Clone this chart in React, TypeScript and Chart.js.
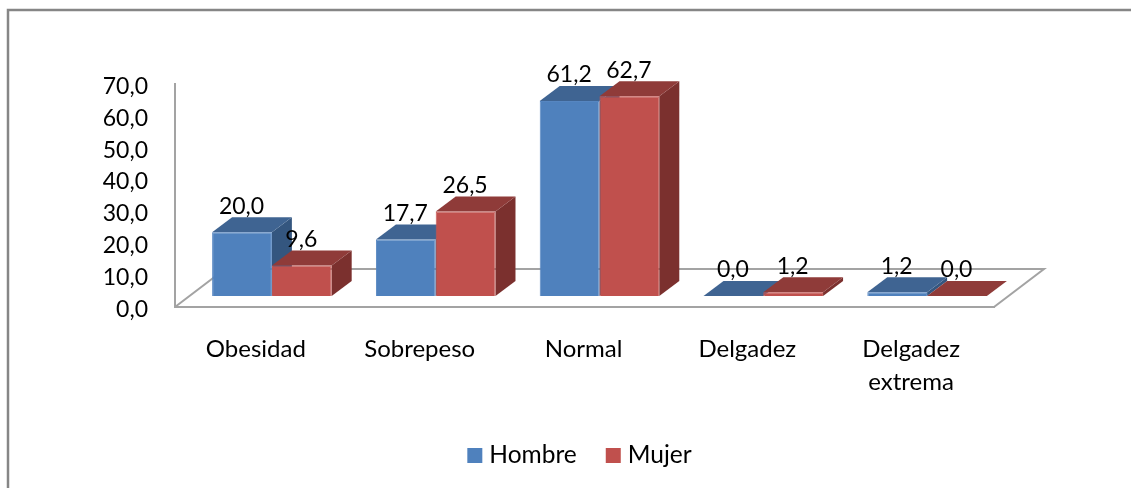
import React, { useEffect, useRef } from "react";
import { Chart, registerables } from "chart.js";

Chart.register(...registerables);

const categories: (string | string[])[] = ["Obesidad", "Sobrepeso", "Normal", "Delgadez", ["Delgadez", "extrema"]];
const seriesNames = ["Hombre", "Mujer"];
const hombre = [20.0, 17.7, 61.2, 0.0, 1.2];
const mujer = [9.6, 26.5, 62.7, 1.2, 0.0];
const yTicks = [0, 10, 20, 30, 40, 50, 60, 70];

const FONT = "Lato, 'Noto Sans', sans-serif";
const TEXT_SIZE = 24;
const LEGEND_SIZE = 24.5;
const NUM_SIZE = 23;
const AXIS_GRAY = "#A3A3A3";
const FRAME_GRAY = "#868686";
const BLUE = { front: "#4F81BD", edge: "#5686C1", top: "#3F6492", side: "#34567F" };
const RED = { front: "#C0504D", edge: "#C65652", top: "#8F3B39", side: "#7B302E" };
const FACES = [BLUE, RED];

// 3D projection offsets in pixels
const FLOOR_DX = 50;
const FLOOR_DY = 38;
const PLANE_DX = 15;
const PLANE_DY = -11;
const BAR_DX = 20;
const BAR_DY = 15;

const fmt = (v: number) => v.toFixed(1).replace(".", ",");

const poly = (ctx: CanvasRenderingContext2D, pts: number[][], fill: string) => {
  ctx.beginPath();
  pts.forEach(([x, y], i) => (i ? ctx.lineTo(x, y) : ctx.moveTo(x, y)));
  ctx.closePath();
  ctx.fillStyle = fill;
  ctx.fill();
};

const threeD = {
  id: "threeD",
  beforeDraw(chart: any) {
    const { ctx, width, height } = chart;
    ctx.save();
    ctx.fillStyle = "#fff";
    ctx.fillRect(0, 0, width, height);
    ctx.strokeStyle = FRAME_GRAY;
    ctx.lineWidth = 2.5;
    ctx.beginPath();
    ctx.moveTo(8, height + 2);
    ctx.lineTo(8, 10);
    ctx.lineTo(width + 2, 10);
    ctx.stroke();
    ctx.restore();
  },
  beforeDatasetsDraw(chart: any) {
    const { ctx, scales } = chart;
    const y0 = scales.y.getPixelForValue(0);
    const l = scales.x.left;
    const r = scales.x.right;
    ctx.save();
    ctx.strokeStyle = AXIS_GRAY;
    ctx.lineWidth = 2;
    ctx.beginPath();
    ctx.moveTo(l, y0);
    ctx.lineTo(l + FLOOR_DX, y0 - FLOOR_DY);
    ctx.lineTo(r + FLOOR_DX, y0 - FLOOR_DY);
    ctx.lineTo(r, y0);
    ctx.stroke();
    ctx.restore();

    // Hombre first, Mujer after it, so that the right-hand bar sits in front.
    chart.data.datasets.forEach((_: any, i: number) => {
      const meta = chart.getDatasetMeta(i);
      const face = FACES[i];
      ctx.save();
      ctx.translate(PLANE_DX, PLANE_DY);
      meta.data.forEach((bar: any) => {
        const xl = bar.x - bar.width / 2;
        const xr = bar.x + bar.width / 2;
        poly(ctx, [[xr, bar.y], [xr + BAR_DX, bar.y - BAR_DY], [xr + BAR_DX, bar.base - BAR_DY], [xr, bar.base]], face.side);
        poly(ctx, [[xl, bar.y], [xl + BAR_DX, bar.y - BAR_DY], [xr + BAR_DX, bar.y - BAR_DY], [xr, bar.y]], face.top);
      });
      meta.controller.draw();
      ctx.restore();
    });
    return false;
  },
  afterDraw(chart: any) {
    const { ctx } = chart;
    ctx.save();
    ctx.font = `${NUM_SIZE}px ${FONT}`;
    ctx.fillStyle = "#000";
    ctx.textAlign = "center";
    ctx.textBaseline = "middle";
    chart.data.datasets.forEach((ds: any, i: number) => {
      chart.getDatasetMeta(i).data.forEach((bar: any, j: number) => {
        ctx.fillText(fmt(ds.data[j]), bar.x + PLANE_DX - 0.5, bar.y + PLANE_DY - 26);
      });
    });

    // Legend
    ctx.font = `${LEGEND_SIZE}px ${FONT}`;
    ctx.textAlign = "left";
    const box = 15;
    const boxGap = 7;
    const itemGap = 29;
    const names: string[] = chart.data.datasets.map((d: any) => d.label);
    const widths = names.map((n) => box + boxGap + ctx.measureText(n).width);
    const total = widths.reduce((a, b) => a + b, 0) + itemGap * (names.length - 1);
    let x = 579.5 - total / 2;
    names.forEach((n, i) => {
      ctx.fillStyle = chart.data.datasets[i].backgroundColor;
      ctx.fillRect(x, 448, box, box);
      ctx.fillStyle = "#000";
      ctx.fillText(n, x + box + boxGap, 455.5);
      x += widths[i] + itemGap;
    });
    ctx.restore();
  },
};

export default function App() {
  const ref = useRef<HTMLCanvasElement>(null);
  useEffect(() => {
    const chart = new Chart(ref.current!, {
      type: "bar",
      plugins: [threeD],
      data: {
        labels: categories as any,
        datasets: [
          { label: seriesNames[0], data: hombre, backgroundColor: BLUE.front, borderColor: BLUE.edge },
          { label: seriesNames[1], data: mujer, backgroundColor: RED.front, borderColor: RED.edge },
        ],
      },
      options: {
        responsive: false,
        animation: false,
        layout: { padding: { left: 0, right: 137, top: 84, bottom: 0 } },
        datasets: { bar: { categoryPercentage: 0.73, barPercentage: 1, borderWidth: 1 } },
        plugins: {
          tooltip: { enabled: false },
          title: { display: false },
          legend: { display: false },
        },
        scales: {
          x: {
            grid: { display: false, drawTicks: false },
            border: { display: true, color: AXIS_GRAY, width: 2 },
            ticks: {
              color: "#000",
              font: { family: FONT, size: TEXT_SIZE, lineHeight: 1.36 },
              padding: 26,
              labelOffset: -1,
              maxRotation: 0,
              autoSkip: false,
            },
            afterFit: (s: any) => {
              s.height = 181;
            },
          },
          y: {
            min: 0,
            max: 70,
            grid: { display: false, drawTicks: false },
            border: { display: true, color: AXIS_GRAY, width: 2 },
            afterBuildTicks: (s: any) => {
              s.ticks = yTicks.map((value) => ({ value }));
            },
            ticks: {
              color: "#000",
              font: { family: FONT, size: NUM_SIZE },
              padding: 27,
              labelOffset: 2.5,
              callback: (v: any) => fmt(Number(v)),
            },
            afterFit: (s: any) => {
              s.width = 175;
            },
          },
        },
      } as any,
    });
    return () => chart.destroy();
  }, []);
  return (
    <canvas
      ref={ref}
      width={1131}
      height={488}
      style={{ position: "absolute", left: 0, top: 0, width: 1131, height: 488, display: "block" }}
    />
  );
}
